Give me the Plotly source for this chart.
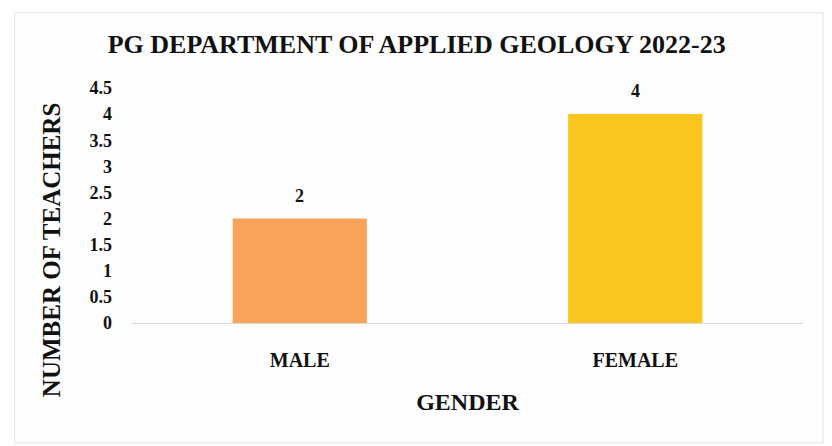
import plotly.graph_objects as go

categories = ["MALE", "FEMALE"]
teachers = [2, 4]
bar_colors = ["#F7A35A", "#F8C61E"]
y_ticks = [0, 0.5, 1, 1.5, 2, 2.5, 3, 3.5, 4, 4.5]
y_tick_labels = ["0", "0.5", "1", "1.5", "2", "2.5", "3", "3.5", "4", "4.5"]

serif = "Liberation Serif, Times New Roman, serif"

fig = go.Figure(go.Bar(
    x=categories, y=teachers,
    marker=dict(color=bar_colors, line=dict(width=0)),
    cliponaxis=False,
))

for c, v in zip(categories, teachers):
    fig.add_annotation(x=c, y=v, text=f"<b>{v}</b>", showarrow=False,
                       yanchor="bottom", yshift=11,
                       font=dict(family=serif, size=18, color="#111"))

fig.add_annotation(xref="paper", yref="paper", x=-0.12, y=0.312,
                   text="<b>NUMBER OF TEACHERS</b>", textangle=-90, showarrow=False,
                   xanchor="center", yanchor="middle",
                   font=dict(family=serif, size=25, color="#111"))

fig.update_layout(
    width=824, height=438,
    margin=dict(l=124, r=29, t=80, b=123),
    paper_bgcolor="#fdfdfd", plot_bgcolor="#fdfdfd",
    bargap=0.60,
    showlegend=False,
    title=dict(text="<b>PG DEPARTMENT OF APPLIED GEOLOGY 2022-23</b>",
               x=0.496, xanchor="center", y=0.918, yanchor="middle",
               font=dict(family=serif, size=26, color="#111")),
    font=dict(family=serif, color="#111"),
)
fig.update_xaxes(
    showgrid=False, showline=False, ticks="",
    tickfont=dict(family=serif, size=20, color="#111"),
    tickvals=categories, ticktext=[f"<b>{c}</b>" for c in categories],
    ticklabelstandoff=23,
    title=dict(text="<b>GENDER</b>", font=dict(family=serif, size=24, color="#111"), standoff=23),
)
fig.update_yaxes(
    range=[0, 4.5], showgrid=False, zeroline=True, zerolinecolor="#d9d9d9", zerolinewidth=1,
    tickvals=y_ticks, ticktext=[f"<b>{t}</b>" for t in y_tick_labels],
    tickfont=dict(family=serif, size=18, color="#111"),
    ticklabelstandoff=19,
)
fig.add_shape(type="rect", xref="paper", yref="paper",
              x0=-0.175, x1=1.03, y0=-0.51, y1=1.32,
              line=dict(color="#e4e4e4", width=1), fillcolor="rgba(0,0,0,0)", layer="below")

fig.write_html("out.html")
